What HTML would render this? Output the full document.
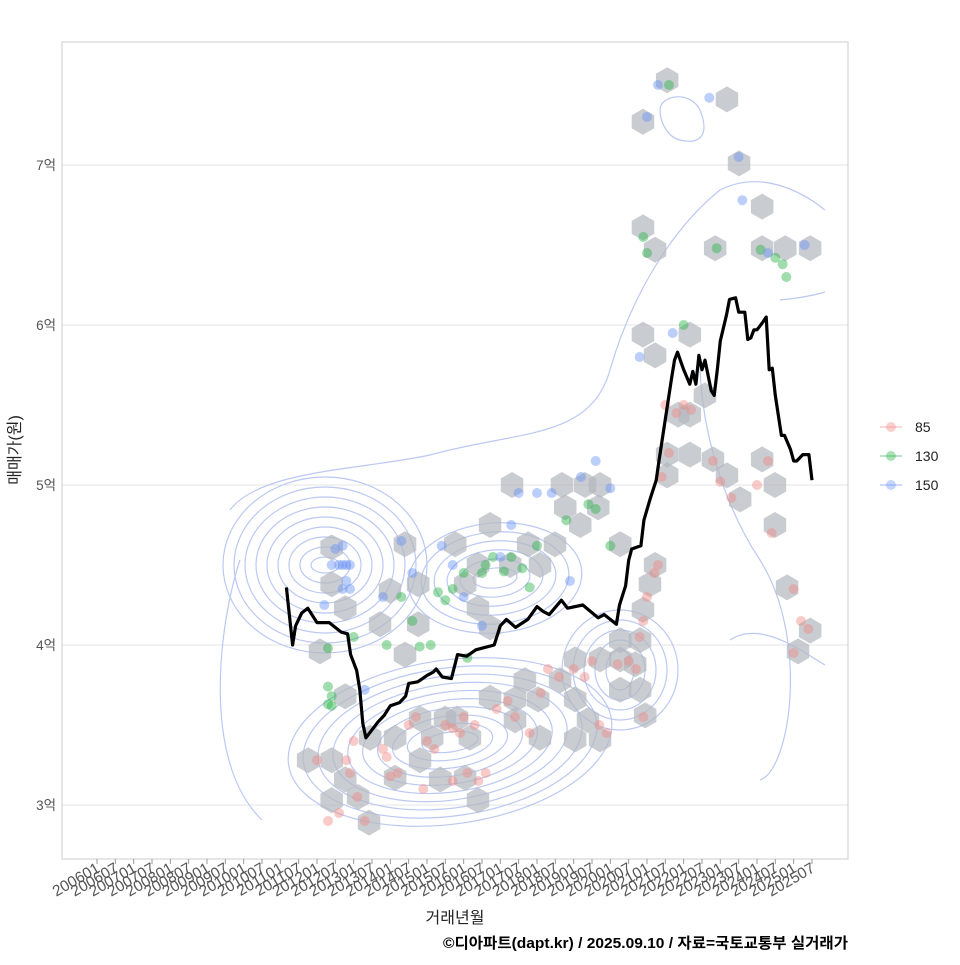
<!DOCTYPE html>
<html><head><meta charset="utf-8"><style>
body{margin:0;background:#fff;}
svg text{font-family:"Liberation Sans","Noto Sans CJK KR",sans-serif;}
</style></head><body>
<svg id="chart" width="960" height="960" viewBox="0 0 960 960">
<rect x="0" y="0" width="960" height="960" fill="#fff"/>
<g id="grid"></g>
<g id="contours"></g>
<g id="hexes"></g>
<g id="points"></g>
<g id="line"></g>
<rect x="62" y="42" width="786" height="817" fill="none" stroke="#ccc" stroke-width="1"/>
<g id="yaxis"></g>
<g id="xaxis"></g>
<text x="20" y="450" font-size="16" fill="#222" text-anchor="middle" transform="rotate(-90 20 450)">매매가(원)</text>
<text x="455" y="923" font-size="16" fill="#222" text-anchor="middle">거래년월</text>
<text x="848" y="948" font-size="15" font-weight="bold" fill="#000" text-anchor="end" textLength="405" lengthAdjust="spacingAndGlyphs">©디아파트(dapt.kr) / 2025.09.10 / 자료=국토교통부 실거래가</text>
<g id="legend"></g>
</svg>
<script>
const yTicks=[3,4,5,6,7];
const yTickLabels=["3억","4억","5억","6억","7억"];
const lineMonths=[62,64,65,67,69,72,76,80,82,83,85,86,87,88,90,92,94,96,99,101,102,105,108,110,111,113,116,118,121,124,126,130,132,134,137,141,144,146,148,152,154,159,164,166,168,170,171,173,174,175,178,179,181,183,184,186,188,189,190,192,194,195,196,197,198,199,201,202,203,204,206,207,209,210,212,213,214,215,216,218,219,220,221,222,224,225,227,228,229,231,233,234];
const lineValues=[4.36,4.0,4.12,4.2,4.23,4.14,4.14,4.08,4.07,3.94,3.84,3.72,3.51,3.42,3.47,3.52,3.56,3.62,3.64,3.68,3.76,3.77,3.81,3.83,3.85,3.8,3.79,3.94,3.93,3.97,3.98,4.0,4.12,4.16,4.11,4.16,4.24,4.21,4.19,4.28,4.23,4.25,4.17,4.19,4.16,4.13,4.25,4.37,4.53,4.6,4.62,4.78,4.91,5.03,5.16,5.41,5.66,5.78,5.83,5.72,5.63,5.71,5.63,5.81,5.72,5.78,5.59,5.56,5.72,5.9,6.06,6.16,6.17,6.08,6.08,5.91,5.92,5.97,5.97,6.02,6.05,5.72,5.73,5.56,5.31,5.31,5.22,5.15,5.15,5.19,5.19,5.03];
const hexYears=[2012.4,2012.4,2012.77,2012.08,2012.77,2011.76,2012.4,2012.77,2012.4,2013.12,2013.42,2013.72,2013.99,2014.4,2014.76,2014.76,2014.4,2013.45,2014.13,2014.81,2015.14,2015.49,2014.81,2014.13,2015.36,2016.04,2016.39,2015.82,2016.17,2016.72,2017.4,2017.67,2018.03,2017.4,2018.08,2015.77,2016.39,2016.72,2016.04,2016.39,2016.72,2017.32,2017.27,2017.76,2018.08,2018.49,2018.68,2019.31,2019.72,2018.77,2019.18,2019.67,2019.04,2019.72,2020.27,2020.68,2018.63,2019.04,2019.39,2019.72,2019.04,2020.27,2020.81,2020.95,2020.27,2020.81,2020.89,2021.08,2020.27,2021.22,2020.89,2021.22,2020.89,2021.55,2020.89,2021.22,2022.17,2021.85,2022.17,2022.58,2021.55,2022.17,2022.8,2021.55,2022.86,2023.18,2023.51,2024.14,2024.14,2024.77,2025.45,2024.14,2024.49,2023.54,2023.18,2024.49,2024.82,2025.12,2025.45];
const hexValues=[4.61,4.38,4.23,3.96,3.68,3.28,3.28,3.16,3.03,3.05,2.89,4.13,4.34,4.63,4.38,4.13,3.94,3.42,3.42,3.54,3.42,3.54,3.28,3.17,3.16,3.17,3.03,3.54,3.42,3.67,3.66,3.78,3.66,3.53,3.42,4.63,4.5,4.75,4.38,4.23,4.11,5.0,4.5,4.63,4.5,4.63,5.0,5.0,5.0,4.86,4.75,4.86,3.91,3.91,3.91,3.88,3.78,3.66,3.53,3.41,3.41,3.72,3.72,3.56,4.03,4.03,4.22,4.38,4.63,4.5,5.94,5.81,6.61,7.53,7.27,6.47,5.94,5.44,5.44,5.56,5.19,5.19,5.16,5.06,6.48,7.41,7.01,6.74,6.48,6.48,6.48,5.16,5.0,4.91,5.06,4.75,4.36,3.96,4.09];
const redYears=[2012.3,2012.6,2012.9,2012.8,2012.0,2013.3,2013.1,2013.8,2013.9,2014.2,2014.0,2014.5,2014.7,2015.0,2015.2,2015.5,2015.7,2015.9,2016.0,2016.3,2016.1,2016.4,2016.6,2016.9,2017.2,2017.4,2017.8,2018.1,2018.3,2018.6,2019.0,2019.3,2019.5,2019.7,2019.9,2020.2,2020.5,2020.7,2020.8,2020.9,2021.0,2021.2,2021.3,2020.9,2021.4,2021.6,2021.8,2021.5,2022.0,2022.2,2022.8,2023.0,2023.3,2024.0,2024.3,2024.4,2025.0,2025.2,2025.4,2025.0,2014.9,2015.7,2013.0];
const redValues=[2.9,2.95,3.2,3.28,3.28,2.9,3.05,3.35,3.3,3.2,3.18,3.5,3.55,3.4,3.35,3.5,3.48,3.45,3.55,3.5,3.2,3.15,3.2,3.6,3.65,3.55,3.45,3.7,3.85,3.8,3.85,3.8,3.9,3.5,3.45,3.88,3.9,3.85,4.05,4.15,4.3,4.45,4.5,3.55,5.05,5.2,5.45,5.5,5.5,5.47,5.15,5.02,4.92,5.0,5.15,4.7,4.35,4.15,4.1,3.95,3.1,3.15,3.4];
const greenYears=[2012.3,2012.3,2012.4,2012.3,2012.4,2013.0,2013.9,2014.3,2014.6,2014.8,2015.1,2015.3,2015.5,2015.7,2016.0,2016.1,2016.5,2016.6,2016.8,2017.1,2017.3,2017.6,2017.8,2018.0,2018.8,2019.4,2019.6,2020.0,2020.9,2021.0,2021.6,2022.0,2022.9,2024.1,2024.5,2024.7,2024.8];
const greenValues=[3.98,3.74,3.68,3.63,3.62,4.05,4.0,4.3,4.15,3.99,4.0,4.33,4.28,4.35,4.45,3.92,4.45,4.5,4.55,4.46,4.55,4.48,4.36,4.62,4.78,4.88,4.85,4.62,6.55,6.45,7.5,6.0,6.48,6.47,6.42,6.38,6.3];
const blueYears=[2012.4,2012.6,2012.7,2012.8,2012.9,2012.8,2012.7,2012.9,2012.5,2012.7,2012.2,2013.3,2013.8,2014.3,2014.6,2015.4,2015.7,2016.0,2016.5,2017.0,2017.3,2017.5,2018.0,2018.4,2018.9,2019.2,2019.6,2020.0,2020.8,2021.0,2021.3,2022.7,2023.5,2023.6,2024.3,2025.3,2021.7];
const blueValues=[4.5,4.5,4.5,4.5,4.5,4.4,4.35,4.35,4.6,4.62,4.25,3.72,4.3,4.65,4.45,4.62,4.5,4.3,4.12,4.55,4.75,4.95,4.95,4.95,4.4,5.05,5.15,4.98,5.8,7.3,7.5,7.42,7.05,6.78,6.45,6.5,5.95];
const legendLabels=["85","130","150"];

const NS="http://www.w3.org/2000/svg";
function yS(v){return 805-(v-3)*160;}
function xM(m){return 97+m*3.0555;}
function xY(y){return xM((y-2006)*12);}
function mk(tag,attrs,parent){const e=document.createElementNS(NS,tag);for(const k in attrs)e.setAttribute(k,attrs[k]);parent.appendChild(e);return e;}

const grid=document.getElementById('grid'),yax=document.getElementById('yaxis');
yTicks.forEach((t,i)=>{
  const l=mk('line',{x1:62,x2:848,y1:yS(t),y2:yS(t),stroke:'#e6e6e6','stroke-width':1},grid);
  
  
  const tx=mk('text',{x:56,y:yS(t)+5,'font-size':13.5,fill:'#555','text-anchor':'end'},yax);
  tx.textContent=yTickLabels[i];
  
  
});
const xax=document.getElementById('xaxis');
for(let i=0;i<40;i++){
  const m=i*6,x=xM(m);
  const yr=2006+Math.floor(m/12),mo=(m%12)+1;
  const t=mk('line',{x1:x,x2:x,y1:859,y2:864,stroke:'#999'},xax);
  
  
  const tx=mk('text',{x:x+4,y:871,'font-size':15.5,fill:'#555','text-anchor':'end',transform:`rotate(-30 ${x+4} 871)`},xax);
  tx.textContent=yr+(mo<10?'0':'')+mo;
  
  
}

// contours (approximate density rings)
const cg=document.getElementById('contours');
function rings(cx,cy,n,rx0,drx,ry0,dry,rot){
  for(let i=0;i<n;i++){
    const e=mk('ellipse',{cx:cx,cy:cy,rx:rx0+drx*i,ry:ry0+dry*i,fill:'none',stroke:'#bcc8f2','stroke-width':1.2,transform:`rotate(${rot} ${cx} ${cy})`},cg);
    
    
  }
}
rings(325,565,9,14,11,8,10,0);
rings(450,742,10,28,15,10,8,-8);
rings(495,578,6,22,13,10,9,-5);
rings(620,670,5,14,11,20,10,0);
[["M230,510 C260,470 360,470 430,455 C520,430 590,440 610,370 C630,300 670,230 720,190 C760,170 800,190 825,210"],
 ["M780,300 C800,298 815,295 825,292"],
 ["M262,820 C200,760 220,620 240,560"],
 ["M760,780 C790,770 810,640 760,560 C720,500 700,420 700,360"],
 ["M680,140 C700,145 710,135 700,110 C690,90 660,95 660,110 C660,125 670,138 680,140"],
 ["M730,640 C760,620 800,650 825,665"]].forEach(d=>{
  const p=mk('path',{d:d[0],fill:'none',stroke:'#bcc8f2','stroke-width':1.2},cg);
  
  
});

// hexes
const hg=document.getElementById('hexes');
hexYears.forEach((yr,i)=>{
  const cx=xY(yr),cy=yS(hexValues[i]),r=13;
  let pts=[];for(let k=0;k<6;k++){const a=Math.PI/180*(60*k-90);pts.push((cx+r*Math.cos(a)).toFixed(1)+','+(cy+r*Math.sin(a)).toFixed(1));}
  const h=mk('polygon',{points:pts.join(' '),fill:'#b4b9bf','fill-opacity':0.72},hg);
  
  
});

// points
const pg=document.getElementById('points');
function pts(ys,vs,col,name){
  ys.forEach((yr,i)=>{
    const c=mk('circle',{cx:xY(yr),cy:yS(vs[i]),r:5,fill:col,'fill-opacity':0.45},pg);
    
    
  });
}
pts(redYears,redValues,'#f08a86','point-85');
pts(greenYears,greenValues,'#2db34a','point-130');
pts(blueYears,blueValues,'#6b93f5','point-150');

// line
const lg=document.getElementById('line');
const d=lineMonths.map((m,i)=>(i?'L':'M')+xM(m).toFixed(1)+','+yS(lineValues[i]).toFixed(1)).join(' ');
const pl=mk('path',{d:d,fill:'none',stroke:'#000','stroke-width':3.2,'stroke-linejoin':'round'},lg);



// legend
const leg=document.getElementById('legend');
const legCols=['#f08a86','#2db34a','#6b93f5'];
legendLabels.forEach((lab,i)=>{
  const y=427+i*29;
  const l=mk('line',{x1:880,x2:902,y1:y,y2:y,stroke:legCols[i],'stroke-opacity':0.45,'stroke-width':1.5},leg);
  
  
  const c=mk('circle',{cx:891,cy:y,r:5,fill:legCols[i],'fill-opacity':0.4},leg);
  
  
  const t=mk('text',{x:915,y:y+5,'font-size':14,fill:'#222'},leg);
  t.textContent=lab;
  
  
});
</script>
</body></html>
